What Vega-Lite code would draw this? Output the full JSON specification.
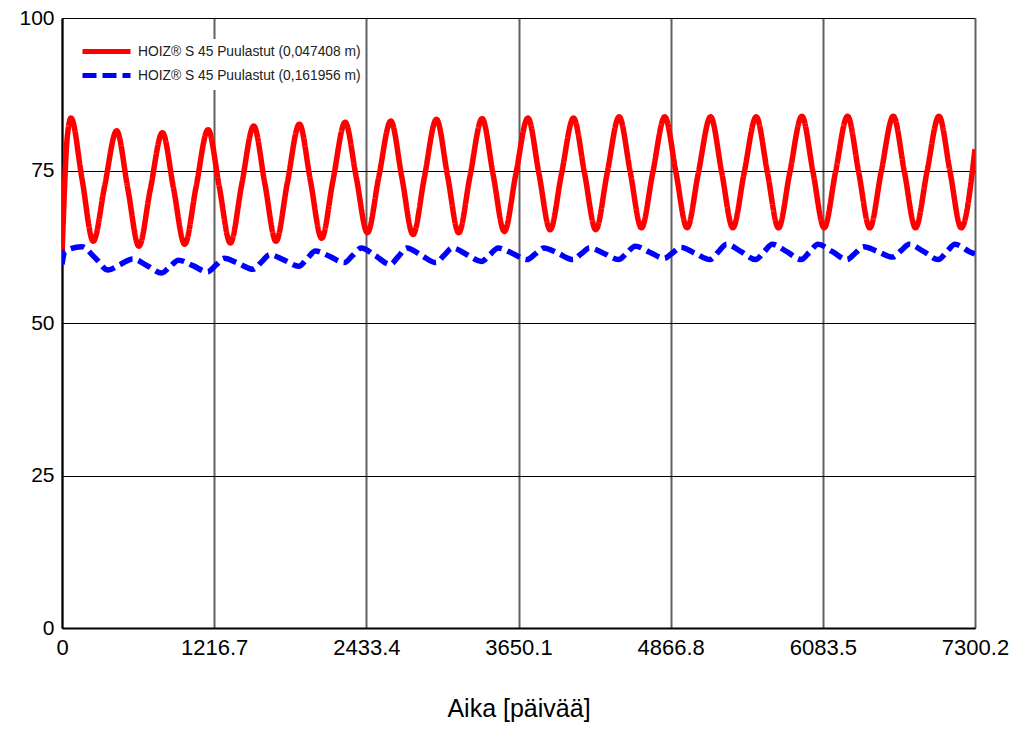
{
  "$schema": "https://vega.github.io/schema/vega-lite/v6.json",
  "width": 913,
  "height": 610,
  "autosize": {"type": "none"},
  "padding": {"left": 62, "top": 18, "right": 49, "bottom": 107},
  "background": "white",
  "config": {
    "view": {"stroke": null},
    "legend": {
      "orient": "none",
      "legendX": 12,
      "legendY": 21,
      "fillColor": "white",
      "padding": 4,
      "title": null,
      "symbolType": "M-4,0L4,0",
      "symbolSize": 144,
      "symbolOffset": 20,
      "symbolStrokeWidth": 5,
      "labelOffset": 23,
      "labelFont": "Liberation Sans",
      "labelFontSize": 13.8,
      "labelColor": "#222",
      "labelLimit": 400,
      "rowPadding": 3
    }
  },
  "data": {
    "values": [
      {"s": "HOIZ® S 45 Puulastut (0,047408 m)", "t": 0, "v": 61},
      {"s": "HOIZ® S 45 Puulastut (0,047408 m)", "t": 16, "v": 70},
      {"s": "HOIZ® S 45 Puulastut (0,047408 m)", "t": 40, "v": 80},
      {"s": "HOIZ® S 45 Puulastut (0,047408 m)", "t": 72, "v": 83.6},
      {"s": "HOIZ® S 45 Puulastut (0,047408 m)", "t": 161, "v": 73.5},
      {"s": "HOIZ® S 45 Puulastut (0,047408 m)", "t": 250, "v": 63.4},
      {"s": "HOIZ® S 45 Puulastut (0,047408 m)", "t": 341, "v": 72.45},
      {"s": "HOIZ® S 45 Puulastut (0,047408 m)", "t": 437, "v": 81.5},
      {"s": "HOIZ® S 45 Puulastut (0,047408 m)", "t": 526, "v": 72.05},
      {"s": "HOIZ® S 45 Puulastut (0,047408 m)", "t": 615, "v": 62.6},
      {"s": "HOIZ® S 45 Puulastut (0,047408 m)", "t": 706, "v": 71.9},
      {"s": "HOIZ® S 45 Puulastut (0,047408 m)", "t": 803, "v": 81.2},
      {"s": "HOIZ® S 45 Puulastut (0,047408 m)", "t": 892, "v": 72.05},
      {"s": "HOIZ® S 45 Puulastut (0,047408 m)", "t": 981, "v": 62.9},
      {"s": "HOIZ® S 45 Puulastut (0,047408 m)", "t": 1072, "v": 72.3},
      {"s": "HOIZ® S 45 Puulastut (0,047408 m)", "t": 1168, "v": 81.7},
      {"s": "HOIZ® S 45 Puulastut (0,047408 m)", "t": 1257, "v": 72.4},
      {"s": "HOIZ® S 45 Puulastut (0,047408 m)", "t": 1346, "v": 63.1},
      {"s": "HOIZ® S 45 Puulastut (0,047408 m)", "t": 1437, "v": 72.7},
      {"s": "HOIZ® S 45 Puulastut (0,047408 m)", "t": 1533, "v": 82.3},
      {"s": "HOIZ® S 45 Puulastut (0,047408 m)", "t": 1622, "v": 72.85},
      {"s": "HOIZ® S 45 Puulastut (0,047408 m)", "t": 1711, "v": 63.4},
      {"s": "HOIZ® S 45 Puulastut (0,047408 m)", "t": 1802, "v": 73.0},
      {"s": "HOIZ® S 45 Puulastut (0,047408 m)", "t": 1898, "v": 82.6},
      {"s": "HOIZ® S 45 Puulastut (0,047408 m)", "t": 1987, "v": 73.25},
      {"s": "HOIZ® S 45 Puulastut (0,047408 m)", "t": 2076, "v": 63.9},
      {"s": "HOIZ® S 45 Puulastut (0,047408 m)", "t": 2167, "v": 73.4},
      {"s": "HOIZ® S 45 Puulastut (0,047408 m)", "t": 2264, "v": 82.9},
      {"s": "HOIZ® S 45 Puulastut (0,047408 m)", "t": 2353, "v": 73.85},
      {"s": "HOIZ® S 45 Puulastut (0,047408 m)", "t": 2442, "v": 64.8},
      {"s": "HOIZ® S 45 Puulastut (0,047408 m)", "t": 2533, "v": 73.95},
      {"s": "HOIZ® S 45 Puulastut (0,047408 m)", "t": 2629, "v": 83.1},
      {"s": "HOIZ® S 45 Puulastut (0,047408 m)", "t": 2718, "v": 73.8},
      {"s": "HOIZ® S 45 Puulastut (0,047408 m)", "t": 2807, "v": 64.5},
      {"s": "HOIZ® S 45 Puulastut (0,047408 m)", "t": 2898, "v": 73.95},
      {"s": "HOIZ® S 45 Puulastut (0,047408 m)", "t": 2994, "v": 83.4},
      {"s": "HOIZ® S 45 Puulastut (0,047408 m)", "t": 3083, "v": 74.1},
      {"s": "HOIZ® S 45 Puulastut (0,047408 m)", "t": 3172, "v": 64.8},
      {"s": "HOIZ® S 45 Puulastut (0,047408 m)", "t": 3263, "v": 74.15},
      {"s": "HOIZ® S 45 Puulastut (0,047408 m)", "t": 3359, "v": 83.5},
      {"s": "HOIZ® S 45 Puulastut (0,047408 m)", "t": 3448, "v": 74.25},
      {"s": "HOIZ® S 45 Puulastut (0,047408 m)", "t": 3537, "v": 65.0},
      {"s": "HOIZ® S 45 Puulastut (0,047408 m)", "t": 3628, "v": 74.3},
      {"s": "HOIZ® S 45 Puulastut (0,047408 m)", "t": 3725, "v": 83.6},
      {"s": "HOIZ® S 45 Puulastut (0,047408 m)", "t": 3814, "v": 74.45},
      {"s": "HOIZ® S 45 Puulastut (0,047408 m)", "t": 3903, "v": 65.3},
      {"s": "HOIZ® S 45 Puulastut (0,047408 m)", "t": 3994, "v": 74.45},
      {"s": "HOIZ® S 45 Puulastut (0,047408 m)", "t": 4090, "v": 83.6},
      {"s": "HOIZ® S 45 Puulastut (0,047408 m)", "t": 4179, "v": 74.45},
      {"s": "HOIZ® S 45 Puulastut (0,047408 m)", "t": 4268, "v": 65.3},
      {"s": "HOIZ® S 45 Puulastut (0,047408 m)", "t": 4359, "v": 74.55},
      {"s": "HOIZ® S 45 Puulastut (0,047408 m)", "t": 4455, "v": 83.8},
      {"s": "HOIZ® S 45 Puulastut (0,047408 m)", "t": 4544, "v": 74.7},
      {"s": "HOIZ® S 45 Puulastut (0,047408 m)", "t": 4633, "v": 65.6},
      {"s": "HOIZ® S 45 Puulastut (0,047408 m)", "t": 4724, "v": 74.7},
      {"s": "HOIZ® S 45 Puulastut (0,047408 m)", "t": 4820, "v": 83.8},
      {"s": "HOIZ® S 45 Puulastut (0,047408 m)", "t": 4909, "v": 74.7},
      {"s": "HOIZ® S 45 Puulastut (0,047408 m)", "t": 4998, "v": 65.6},
      {"s": "HOIZ® S 45 Puulastut (0,047408 m)", "t": 5089, "v": 74.7},
      {"s": "HOIZ® S 45 Puulastut (0,047408 m)", "t": 5186, "v": 83.8},
      {"s": "HOIZ® S 45 Puulastut (0,047408 m)", "t": 5275, "v": 74.7},
      {"s": "HOIZ® S 45 Puulastut (0,047408 m)", "t": 5364, "v": 65.6},
      {"s": "HOIZ® S 45 Puulastut (0,047408 m)", "t": 5455, "v": 74.7},
      {"s": "HOIZ® S 45 Puulastut (0,047408 m)", "t": 5551, "v": 83.8},
      {"s": "HOIZ® S 45 Puulastut (0,047408 m)", "t": 5640, "v": 74.7},
      {"s": "HOIZ® S 45 Puulastut (0,047408 m)", "t": 5729, "v": 65.6},
      {"s": "HOIZ® S 45 Puulastut (0,047408 m)", "t": 5820, "v": 74.75},
      {"s": "HOIZ® S 45 Puulastut (0,047408 m)", "t": 5916, "v": 83.9},
      {"s": "HOIZ® S 45 Puulastut (0,047408 m)", "t": 6005, "v": 74.75},
      {"s": "HOIZ® S 45 Puulastut (0,047408 m)", "t": 6094, "v": 65.6},
      {"s": "HOIZ® S 45 Puulastut (0,047408 m)", "t": 6185, "v": 74.75},
      {"s": "HOIZ® S 45 Puulastut (0,047408 m)", "t": 6281, "v": 83.9},
      {"s": "HOIZ® S 45 Puulastut (0,047408 m)", "t": 6370, "v": 74.75},
      {"s": "HOIZ® S 45 Puulastut (0,047408 m)", "t": 6459, "v": 65.6},
      {"s": "HOIZ® S 45 Puulastut (0,047408 m)", "t": 6550, "v": 74.75},
      {"s": "HOIZ® S 45 Puulastut (0,047408 m)", "t": 6647, "v": 83.9},
      {"s": "HOIZ® S 45 Puulastut (0,047408 m)", "t": 6736, "v": 74.75},
      {"s": "HOIZ® S 45 Puulastut (0,047408 m)", "t": 6825, "v": 65.6},
      {"s": "HOIZ® S 45 Puulastut (0,047408 m)", "t": 6916, "v": 74.75},
      {"s": "HOIZ® S 45 Puulastut (0,047408 m)", "t": 7012, "v": 83.9},
      {"s": "HOIZ® S 45 Puulastut (0,047408 m)", "t": 7101, "v": 74.75},
      {"s": "HOIZ® S 45 Puulastut (0,047408 m)", "t": 7190, "v": 65.6},
      {"s": "HOIZ® S 45 Puulastut (0,047408 m)", "t": 7300.2, "v": 78.5},
      {"s": "HOIZ® S 45 Puulastut (0,161956 m)", "t": 0, "v": 59.6},
      {"s": "HOIZ® S 45 Puulastut (0,161956 m)", "t": 24, "v": 61.8},
      {"s": "HOIZ® S 45 Puulastut (0,161956 m)", "t": 160, "v": 62.5},
      {"s": "HOIZ® S 45 Puulastut (0,161956 m)", "t": 264, "v": 60.7},
      {"s": "HOIZ® S 45 Puulastut (0,161956 m)", "t": 368, "v": 58.7},
      {"s": "HOIZ® S 45 Puulastut (0,161956 m)", "t": 466, "v": 59.6},
      {"s": "HOIZ® S 45 Puulastut (0,161956 m)", "t": 565, "v": 60.5},
      {"s": "HOIZ® S 45 Puulastut (0,161956 m)", "t": 681, "v": 59.4},
      {"s": "HOIZ® S 45 Puulastut (0,161956 m)", "t": 797, "v": 58.2},
      {"s": "HOIZ® S 45 Puulastut (0,161956 m)", "t": 864, "v": 59.25},
      {"s": "HOIZ® S 45 Puulastut (0,161956 m)", "t": 931, "v": 60.3},
      {"s": "HOIZ® S 45 Puulastut (0,161956 m)", "t": 1047, "v": 59.4},
      {"s": "HOIZ® S 45 Puulastut (0,161956 m)", "t": 1163, "v": 58.4},
      {"s": "HOIZ® S 45 Puulastut (0,161956 m)", "t": 1230, "v": 59.5},
      {"s": "HOIZ® S 45 Puulastut (0,161956 m)", "t": 1296, "v": 60.6},
      {"s": "HOIZ® S 45 Puulastut (0,161956 m)", "t": 1412, "v": 59.75},
      {"s": "HOIZ® S 45 Puulastut (0,161956 m)", "t": 1528, "v": 58.8},
      {"s": "HOIZ® S 45 Puulastut (0,161956 m)", "t": 1595, "v": 60.0},
      {"s": "HOIZ® S 45 Puulastut (0,161956 m)", "t": 1661, "v": 61.2},
      {"s": "HOIZ® S 45 Puulastut (0,161956 m)", "t": 1777, "v": 60.3},
      {"s": "HOIZ® S 45 Puulastut (0,161956 m)", "t": 1893, "v": 59.3},
      {"s": "HOIZ® S 45 Puulastut (0,161956 m)", "t": 1960, "v": 60.55},
      {"s": "HOIZ® S 45 Puulastut (0,161956 m)", "t": 2026, "v": 61.8},
      {"s": "HOIZ® S 45 Puulastut (0,161956 m)", "t": 2142, "v": 60.9},
      {"s": "HOIZ® S 45 Puulastut (0,161956 m)", "t": 2258, "v": 59.9},
      {"s": "HOIZ® S 45 Puulastut (0,161956 m)", "t": 2325, "v": 61.1},
      {"s": "HOIZ® S 45 Puulastut (0,161956 m)", "t": 2392, "v": 62.3},
      {"s": "HOIZ® S 45 Puulastut (0,161956 m)", "t": 2508, "v": 61.0},
      {"s": "HOIZ® S 45 Puulastut (0,161956 m)", "t": 2624, "v": 59.6},
      {"s": "HOIZ® S 45 Puulastut (0,161956 m)", "t": 2691, "v": 60.95},
      {"s": "HOIZ® S 45 Puulastut (0,161956 m)", "t": 2757, "v": 62.3},
      {"s": "HOIZ® S 45 Puulastut (0,161956 m)", "t": 2873, "v": 61.1},
      {"s": "HOIZ® S 45 Puulastut (0,161956 m)", "t": 2989, "v": 59.9},
      {"s": "HOIZ® S 45 Puulastut (0,161956 m)", "t": 3056, "v": 61.1},
      {"s": "HOIZ® S 45 Puulastut (0,161956 m)", "t": 3122, "v": 62.3},
      {"s": "HOIZ® S 45 Puulastut (0,161956 m)", "t": 3238, "v": 61.2},
      {"s": "HOIZ® S 45 Puulastut (0,161956 m)", "t": 3354, "v": 60.1},
      {"s": "HOIZ® S 45 Puulastut (0,161956 m)", "t": 3421, "v": 61.2},
      {"s": "HOIZ® S 45 Puulastut (0,161956 m)", "t": 3487, "v": 62.3},
      {"s": "HOIZ® S 45 Puulastut (0,161956 m)", "t": 3603, "v": 61.4},
      {"s": "HOIZ® S 45 Puulastut (0,161956 m)", "t": 3719, "v": 60.4},
      {"s": "HOIZ® S 45 Puulastut (0,161956 m)", "t": 3786, "v": 61.35},
      {"s": "HOIZ® S 45 Puulastut (0,161956 m)", "t": 3853, "v": 62.3},
      {"s": "HOIZ® S 45 Puulastut (0,161956 m)", "t": 3969, "v": 61.4},
      {"s": "HOIZ® S 45 Puulastut (0,161956 m)", "t": 4085, "v": 60.4},
      {"s": "HOIZ® S 45 Puulastut (0,161956 m)", "t": 4152, "v": 61.35},
      {"s": "HOIZ® S 45 Puulastut (0,161956 m)", "t": 4218, "v": 62.3},
      {"s": "HOIZ® S 45 Puulastut (0,161956 m)", "t": 4334, "v": 61.4},
      {"s": "HOIZ® S 45 Puulastut (0,161956 m)", "t": 4450, "v": 60.4},
      {"s": "HOIZ® S 45 Puulastut (0,161956 m)", "t": 4517, "v": 61.5},
      {"s": "HOIZ® S 45 Puulastut (0,161956 m)", "t": 4583, "v": 62.6},
      {"s": "HOIZ® S 45 Puulastut (0,161956 m)", "t": 4699, "v": 61.6},
      {"s": "HOIZ® S 45 Puulastut (0,161956 m)", "t": 4815, "v": 60.6},
      {"s": "HOIZ® S 45 Puulastut (0,161956 m)", "t": 4882, "v": 61.5},
      {"s": "HOIZ® S 45 Puulastut (0,161956 m)", "t": 4948, "v": 62.4},
      {"s": "HOIZ® S 45 Puulastut (0,161956 m)", "t": 5064, "v": 61.4},
      {"s": "HOIZ® S 45 Puulastut (0,161956 m)", "t": 5180, "v": 60.4},
      {"s": "HOIZ® S 45 Puulastut (0,161956 m)", "t": 5247, "v": 61.65},
      {"s": "HOIZ® S 45 Puulastut (0,161956 m)", "t": 5314, "v": 62.9},
      {"s": "HOIZ® S 45 Puulastut (0,161956 m)", "t": 5430, "v": 61.7},
      {"s": "HOIZ® S 45 Puulastut (0,161956 m)", "t": 5546, "v": 60.4},
      {"s": "HOIZ® S 45 Puulastut (0,161956 m)", "t": 5613, "v": 61.65},
      {"s": "HOIZ® S 45 Puulastut (0,161956 m)", "t": 5679, "v": 62.9},
      {"s": "HOIZ® S 45 Puulastut (0,161956 m)", "t": 5795, "v": 61.7},
      {"s": "HOIZ® S 45 Puulastut (0,161956 m)", "t": 5911, "v": 60.4},
      {"s": "HOIZ® S 45 Puulastut (0,161956 m)", "t": 5978, "v": 61.65},
      {"s": "HOIZ® S 45 Puulastut (0,161956 m)", "t": 6044, "v": 62.9},
      {"s": "HOIZ® S 45 Puulastut (0,161956 m)", "t": 6160, "v": 61.7},
      {"s": "HOIZ® S 45 Puulastut (0,161956 m)", "t": 6276, "v": 60.4},
      {"s": "HOIZ® S 45 Puulastut (0,161956 m)", "t": 6343, "v": 61.45},
      {"s": "HOIZ® S 45 Puulastut (0,161956 m)", "t": 6409, "v": 62.5},
      {"s": "HOIZ® S 45 Puulastut (0,161956 m)", "t": 6525, "v": 61.7},
      {"s": "HOIZ® S 45 Puulastut (0,161956 m)", "t": 6641, "v": 60.8},
      {"s": "HOIZ® S 45 Puulastut (0,161956 m)", "t": 6708, "v": 61.85},
      {"s": "HOIZ® S 45 Puulastut (0,161956 m)", "t": 6775, "v": 62.9},
      {"s": "HOIZ® S 45 Puulastut (0,161956 m)", "t": 6891, "v": 61.7},
      {"s": "HOIZ® S 45 Puulastut (0,161956 m)", "t": 7007, "v": 60.4},
      {"s": "HOIZ® S 45 Puulastut (0,161956 m)", "t": 7074, "v": 61.65},
      {"s": "HOIZ® S 45 Puulastut (0,161956 m)", "t": 7140, "v": 62.9},
      {"s": "HOIZ® S 45 Puulastut (0,161956 m)", "t": 7256, "v": 61.7},
      {"s": "HOIZ® S 45 Puulastut (0,161956 m)", "t": 7300.2, "v": 61.3}
    ]
  },
  "mark": {"type": "line", "interpolate": "monotone", "strokeWidth": 5.5, "strokeCap": "butt", "clip": true},
  "encoding": {
    "x": {
      "field": "t",
      "type": "quantitative",
      "scale": {"domain": [0, 7300.2], "nice": false, "zero": false},
      "axis": {
        "values": [0, 1216.7, 2433.4, 3650.1, 4866.8, 6083.5, 7300.2],
        "format": ".1~f",
        "title": "Aika [päivää]",
        "titleFont": "Liberation Sans",
        "titleFontSize": 25,
        "titleFontWeight": "normal",
        "titleColor": "black",
        "titlePadding": 38,
        "labelFont": "Liberation Sans",
        "labelFontSize": 22,
        "labelColor": "black",
        "labelPadding": 9,
        "labelFlush": false,
        "labelOverlap": false,
        "ticks": false,
        "domainColor": "black",
        "domainWidth": 2,
        "grid": true,
        "gridColor": "#444",
        "gridWidth": 2,
        "gridOpacity": 0.85
      }
    },
    "y": {
      "field": "v",
      "type": "quantitative",
      "scale": {"domain": [0, 100], "nice": false},
      "axis": {
        "values": [0, 25, 50, 75, 100],
        "title": null,
        "labelFont": "Liberation Sans",
        "labelFontSize": 21,
        "labelColor": "black",
        "labelPadding": 8,
        "labelFlush": false,
        "ticks": false,
        "domainColor": "black",
        "domainWidth": 2,
        "grid": true,
        "gridColor": "black",
        "gridWidth": 1.2,
        "gridOpacity": 1
      }
    },
    "color": {
      "field": "s",
      "type": "nominal",
      "scale": {
        "domain": ["HOIZ® S 45 Puulastut (0,047408 m)", "HOIZ® S 45 Puulastut (0,161956 m)"],
        "range": ["#ff0000", "#0000ff"]
      }
    },
    "strokeDash": {
      "field": "s",
      "type": "nominal",
      "scale": {
        "domain": ["HOIZ® S 45 Puulastut (0,047408 m)", "HOIZ® S 45 Puulastut (0,161956 m)"],
        "range": [[1, 0], [14, 6]]
      }
    }
  }
}
